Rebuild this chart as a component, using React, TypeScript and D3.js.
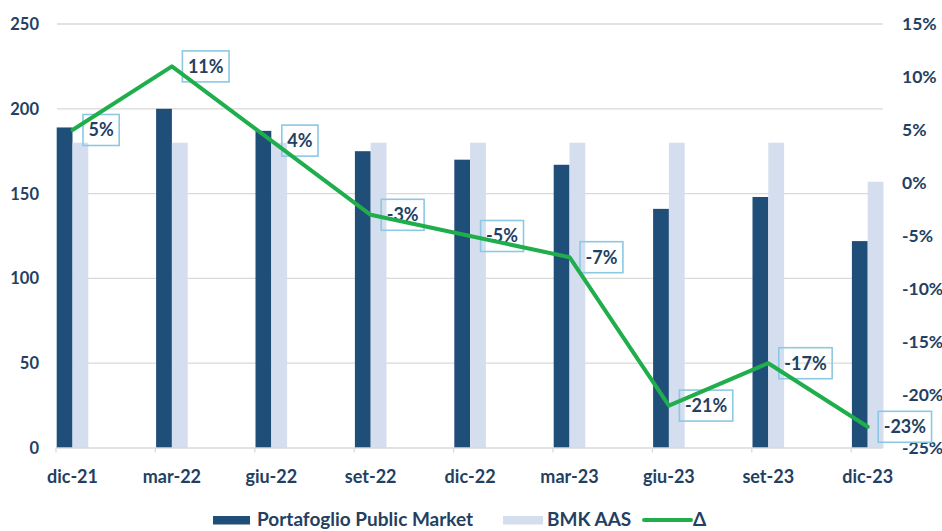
import React, { useEffect, useRef } from "react";
import * as d3 from "d3";

const categories = ["dic-21", "mar-22", "giu-22", "set-22", "dic-22", "mar-23", "giu-23", "set-23", "dic-23"];
const portafoglio = [189, 200, 187, 175, 170, 167, 141, 148, 122];
const bmk = [180, 180, 180, 180, 180, 180, 180, 180, 157];
const delta = [5, 11, 4, -3, -5, -7, -21, -17, -23];
const leftTicks = [0, 50, 100, 150, 200, 250];
const rightTicks = [15, 10, 5, 0, -5, -10, -15, -20, -25];

const W = 942;
const H = 531;
const NAVY = "#1f4e79";
const LIGHT = "#d5deef";
const GREEN = "#1fae4b";
const TEXT = "#243f62";
const GRID = "#d9d9d9";
const FONT = "Lato, 'Open Sans', sans-serif";

export default function App() {
  const ref = useRef<SVGSVGElement | null>(null);

  useEffect(() => {
    const svg = d3.select(ref.current);
    svg.selectAll("*").remove();

    const plotLeft = 57;
    const plotRight = 883;
    const x = d3.scalePoint<string>().domain(categories).range([72.5, 867.7]);
    const yL = d3.scaleLinear().domain([0, 250]).range([448, 24]);
    const yR = d3.scaleLinear().domain([-25, 15]).range([448, 24]);
    const barW = 15.8;

    // gridlines
    svg
      .append("g")
      .selectAll("line")
      .data(leftTicks.filter((t) => t > 0))
      .join("line")
      .attr("x1", plotLeft)
      .attr("x2", plotRight)
      .attr("y1", (d) => yL(d))
      .attr("y2", (d) => yL(d))
      .attr("stroke", GRID)
      .attr("stroke-width", 1.3);

    // bars
    svg
      .append("g")
      .selectAll("rect")
      .data(categories)
      .join("rect")
      .attr("x", (d) => (x(d) as number) - barW)
      .attr("y", (_d, i) => yL(portafoglio[i]))
      .attr("width", barW)
      .attr("height", (_d, i) => yL(0) - yL(portafoglio[i]))
      .attr("fill", NAVY);

    svg
      .append("g")
      .selectAll("rect")
      .data(categories)
      .join("rect")
      .attr("x", (d) => x(d) as number)
      .attr("y", (_d, i) => yL(bmk[i]))
      .attr("width", barW)
      .attr("height", (_d, i) => yL(0) - yL(bmk[i]))
      .attr("fill", LIGHT);

    // x axis line and ticks
    svg
      .append("line")
      .attr("x1", plotLeft)
      .attr("x2", plotRight)
      .attr("y1", yL(0))
      .attr("y2", yL(0))
      .attr("stroke", GRID)
      .attr("stroke-width", 1.3);
    svg
      .append("g")
      .selectAll("line")
      .data(categories)
      .join("line")
      .attr("x1", (d) => (x(d) as number) - 16.5)
      .attr("x2", (d) => (x(d) as number) - 16.5)
      .attr("y1", yL(0))
      .attr("y2", yL(0) + 4.5)
      .attr("stroke", GRID)
      .attr("stroke-width", 1.3);

    // category labels
    svg
      .append("g")
      .selectAll("text")
      .data(categories)
      .join("text")
      .attr("x", (d) => x(d) as number)
      .attr("y", 483)
      .attr("text-anchor", "middle")
      .attr("font-family", FONT)
      .attr("font-weight", 700)
      .attr("font-size", 18)
      .attr("fill", TEXT)
      .text((d) => d);

    // left axis labels
    svg
      .append("g")
      .selectAll("text")
      .data(leftTicks)
      .join("text")
      .attr("x", 39)
      .attr("y", (d) => yL(d))
      .attr("dy", "0.36em")
      .attr("text-anchor", "end")
      .attr("font-family", FONT)
      .attr("font-weight", 700)
      .attr("font-size", 16.5)
      .attr("fill", TEXT)
      .text((d) => String(d));

    // right axis labels
    svg
      .append("g")
      .selectAll("text")
      .data(rightTicks)
      .join("text")
      .attr("x", 902)
      .attr("y", (d) => yR(d))
      .attr("dy", "0.36em")
      .attr("text-anchor", "start")
      .attr("font-family", FONT)
      .attr("font-weight", 700)
      .attr("font-size", 17.5)
      .attr("fill", TEXT)
      .text((d) => `${d}%`);

    // data label boxes (behind the line)
    const labels = svg.append("g");
    categories.forEach((c, i) => {
      const px = x(c) as number;
      const py = yR(delta[i]);
      const g = labels.append("g");
      const t = g
        .append("text")
        .attr("x", px + 16)
        .attr("y", py)
        .attr("dy", "0.36em")
        .attr("font-family", FONT)
        .attr("font-weight", 700)
        .attr("font-size", 18)
        .attr("fill", TEXT)
        .text(`${delta[i]}%`);
      const w = (t.node() as SVGTextElement).getComputedTextLength();
      g.insert("rect", "text")
        .attr("x", px + 10.5)
        .attr("y", py - 15.5)
        .attr("width", w + 11)
        .attr("height", 31)
        .attr("fill", "none")
        .attr("stroke", "#8cc8e4")
        .attr("stroke-width", 1.6);
    });

    // delta line
    const line = d3
      .line<number>()
      .x((_d, i) => x(categories[i]) as number)
      .y((d) => yR(d));
    svg
      .append("path")
      .datum(delta)
      .attr("d", line)
      .attr("fill", "none")
      .attr("stroke", GREEN)
      .attr("stroke-width", 4)
      .attr("stroke-linejoin", "round")
      .attr("stroke-linecap", "round");

    // legend
    const lg = svg.append("g").attr("font-family", FONT).attr("font-weight", 700).attr("font-size", 19).attr("fill", TEXT);
    lg.append("rect").attr("x", 213).attr("y", 516).attr("width", 37).attr("height", 8.5).attr("fill", NAVY);
    lg.append("text").attr("x", 257).attr("y", 526).text("Portafoglio Public Market");
    lg.append("rect").attr("x", 503).attr("y", 516).attr("width", 40).attr("height", 8.5).attr("fill", LIGHT);
    lg.append("text").attr("x", 547).attr("y", 526).text("BMK AAS");
    lg.append("line").attr("x1", 644).attr("x2", 691).attr("y1", 520).attr("y2", 520).attr("stroke", GREEN).attr("stroke-width", 4).attr("stroke-linecap", "round");
    lg.append("text").attr("x", 693).attr("y", 526).text("Δ");
  }, []);

  return (
    <svg
      ref={ref}
      width={W}
      height={H}
      viewBox={`0 0 ${W} ${H}`}
      style={{ position: "absolute", left: 0, top: 0, background: "#ffffff" }}
    />
  );
}
